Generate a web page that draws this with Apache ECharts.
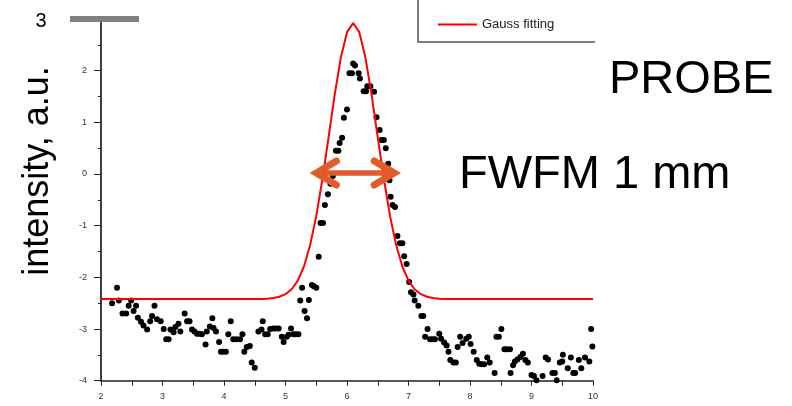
<!DOCTYPE html>
<html><head><meta charset="utf-8">
<script src="https://cdn.jsdelivr.net/npm/echarts@6/dist/echarts.min.js"></script>
<style>html,body{margin:0;padding:0;background:#fff}#c{width:792px;height:406px}</style>
</head><body><div id="c"></div>
<script>
// measured points (position, intensity)
const dotX = [
2.18,2.26,2.29,2.35,2.41,2.45,2.49,2.53,2.57,2.60,
2.65,2.69,2.75,2.80,2.83,2.87,2.91,2.97,3.02,3.06,
3.10,3.13,3.18,3.21,3.26,3.29,3.36,3.40,3.44,3.48,
3.52,3.56,3.60,3.64,3.70,3.72,3.77,3.81,3.83,3.87,
3.92,3.95,3.99,4.03,4.07,4.11,4.15,4.20,4.26,4.30,
4.33,4.37,4.42,4.45,4.50,4.56,4.61,4.63,4.67,4.71,
4.75,4.80,4.84,4.89,4.94,4.97,5.02,5.05,5.09,5.13,
5.17,5.21,5.24,5.27,5.31,5.35,5.38,5.43,5.46,5.50,
5.54,5.57,5.61,5.64,5.69,5.73,5.77,5.82,5.86,5.88,
5.92,5.95,6.00,6.04,6.08,6.10,6.13,6.19,6.21,6.27,
6.31,6.33,6.38,6.44,6.48,6.53,6.56,6.60,6.63,6.67,
6.69,6.71,6.74,6.78,6.82,6.86,6.90,6.93,6.97,7.01,
7.04,7.08,7.10,7.16,7.21,7.24,7.27,7.31,7.35,7.39,
7.43,7.50,7.53,7.58,7.62,7.65,7.68,7.73,7.77,7.80,
7.84,7.88,7.94,7.98,8.01,8.06,8.11,8.15,8.19,8.23,
8.28,8.32,8.40,8.43,8.47,8.51,8.56,8.60,8.65,8.66,
8.70,8.73,8.77,8.82,8.86,8.90,8.94,9.00,9.04,9.08,
9.18,9.23,9.27,9.34,9.38,9.41,9.46,9.50,9.51,9.59,
9.64,9.68,9.71,9.77,9.81,9.87,9.94,9.97,9.99];
const dotY = [
-2.50,-2.20,-2.45,-2.70,-2.70,-2.55,-2.45,-2.65,-2.55,-2.78,
-2.86,-2.93,-3.01,-2.85,-2.75,-2.55,-2.81,-2.85,-3.00,-3.20,
-3.20,-3.01,-3.06,-2.96,-2.90,-3.05,-2.70,-2.85,-2.85,-3.01,
-3.05,-3.09,-3.09,-3.10,-3.30,-3.05,-2.95,-2.79,-2.98,-3.05,
-3.25,-3.44,-3.44,-3.44,-3.10,-2.85,-3.20,-3.20,-3.20,-3.10,
-3.44,-3.35,-3.33,-3.65,-3.75,-3.05,-3.01,-2.85,-3.10,-3.10,
-3.00,-2.99,-2.99,-2.99,-3.15,-3.25,-3.15,-3.11,-2.99,-3.10,
-3.10,-3.10,-2.45,-2.20,-2.65,-2.79,-2.44,-2.15,-2.17,-2.20,
-1.60,-0.95,-0.95,-0.60,-0.39,-0.19,-0.04,0.45,0.45,0.60,
0.70,1.09,1.25,1.95,1.95,2.14,2.10,1.95,1.85,1.60,
1.60,1.70,1.70,1.59,1.10,0.85,0.66,0.66,0.50,0.20,
-0.12,-0.44,-0.60,-0.64,-1.20,-1.34,-1.34,-1.59,-1.74,-2.09,
-2.29,-2.33,-2.45,-2.55,-2.75,-2.75,-3.15,-3.00,-3.20,-3.20,
-3.20,-3.09,-3.19,-3.26,-3.32,-3.44,-3.60,-3.65,-3.65,-3.35,
-3.15,-3.27,-3.19,-3.15,-3.29,-3.44,-3.60,-3.67,-3.68,-3.68,
-3.55,-3.65,-3.85,-3.15,-3.15,-3.00,-3.39,-3.39,-3.39,-3.85,
-3.70,-3.63,-3.59,-3.54,-3.48,-3.60,-3.65,-3.89,-3.91,-3.99,
-3.91,-3.55,-3.59,-3.85,-3.85,-3.99,-3.65,-3.63,-3.50,-3.76,
-3.55,-3.85,-3.85,-3.60,-3.76,-3.55,-3.63,-3.00,-3.34];

// Gauss fitting curve
const fitX = [2,4.5,4.6,4.7,4.8,4.9,5.0,5.1,5.2,5.3,5.4,5.5,5.6,5.7,5.8,5.9,6.0,6.1,6.2,6.3,6.4,6.5,6.6,6.7,6.8,6.9,7.0,7.1,7.2,7.3,7.4,7.5,7.6,7.7,10];
const fitY = [-2.42,-2.42,-2.417,-2.412,-2.401,-2.376,-2.326,-2.230,-2.063,-1.790,-1.380,-0.815,-0.102,0.710,1.534,2.253,2.745,2.920,2.745,2.253,1.534,0.710,-0.102,-0.815,-1.380,-1.790,-2.063,-2.230,-2.326,-2.376,-2.401,-2.412,-2.417,-2.42,-2.42];

const xRange = [2, 10];
const yRange = [-4, 3];
const fitName = 'Gauss fitting';
const yTitle = 'intensity, a.u.';
const yTopLabel = '3';
const note1 = 'PROBE';
const note2 = 'FWFM 1 mm';
const arrowStart = [5.47, 0.02];
const arrowEnd = [6.80, 0.02];

const FONT = '"Liberation Sans", Arial, sans-serif';
const chart = echarts.init(document.getElementById('c'), null, {renderer: 'canvas'});

chart.setOption({
  animation: false,
  backgroundColor: '#fff',
  grid: {left: 101, right: 199, top: 19, bottom: 25.3, containLabel: false},
  legend: {
    data: [fitName], left: 433, top: 13, itemWidth: 39, itemHeight: 2, icon: 'rect',
    itemGap: 5, textStyle: {fontFamily: FONT, fontSize: 13, color: '#222'}
  },
  xAxis: {
    type: 'value', min: xRange[0], max: xRange[1], interval: 0.5,
    axisLine: {onZero: false, lineStyle: {color: '#222', width: 1.5}},
    axisTick: {length: 5, lineStyle: {color: '#222', width: 1}},
    axisLabel: {margin: 11, fontFamily: FONT, fontSize: 9, color: '#333',
      formatter: v => Number.isInteger(v) ? String(v) : ''},
    splitLine: {show: false}
  },
  yAxis: {
    type: 'value', min: yRange[0], max: yRange[1], interval: 1,
    axisLine: {show: true, onZero: false, lineStyle: {color: '#000', width: 1.5}},
    axisTick: {show: true, length: 7, lineStyle: {color: '#222', width: 1}},
    minorTick: {show: true, splitNumber: 2, length: 3, lineStyle: {color: '#222', width: 1}},
    axisLabel: {margin: 14, fontFamily: FONT, fontSize: 9, color: '#333',
      formatter: v => v === yRange[1] ? '' : String(v)},
    splitLine: {show: false}
  },
  series: [
    {
      type: 'scatter', name: 'data', z: 2,
      data: dotX.map((x, i) => [x, dotY[i]]),
      symbolSize: 6, itemStyle: {color: '#000', opacity: 1}, emphasis: {disabled: true}
    },
    {
      type: 'line', name: fitName, z: 3,
      data: fitX.map((x, i) => [x, fitY[i]]),
      showSymbol: false, symbol: 'none', color: '#ff0000',
      lineStyle: {color: '#ff0000', width: 2}, itemStyle: {color: '#ff0000'},
      emphasis: {disabled: true}
    }
  ]
});

const p1 = chart.convertToPixel({gridIndex: 0}, arrowStart);
const p2 = chart.convertToPixel({gridIndex: 0}, arrowEnd);
const ac = '#e05c28';
const hx = 22, hy = 12;

chart.setOption({
  graphic: [
    {type: 'rect', shape: {x: 70, y: 16, width: 69, height: 6}, style: {fill: '#808080'}, z: 10},
    {type: 'text', style: {text: yTopLabel, x: 41, y: 21, textAlign: 'center', textVerticalAlign: 'middle',
      font: '20px ' + FONT, fill: '#000'}},
    {type: 'text', x: 38, y: 171, rotation: Math.PI / 2,
      style: {text: yTitle, x: 0, y: 0, textAlign: 'center', textVerticalAlign: 'middle',
      font: '36px ' + FONT, fill: '#000'}},
    {type: 'text', style: {text: note1, x: 609, y: 80, textAlign: 'left', textVerticalAlign: 'middle',
      font: '47px ' + FONT, fill: '#000'}},
    {type: 'text', style: {text: note2, x: 459, y: 175, textAlign: 'left', textVerticalAlign: 'middle',
      font: '47px ' + FONT, fill: '#000'}},
    {type: 'polyline', shape: {points: [[418, 0], [418, 42], [595, 42]]},
      style: {stroke: '#555', lineWidth: 1.5, fill: null}},
    {type: 'line', shape: {x1: p1[0] + 4, y1: p1[1], x2: p2[0] - 4, y2: p2[1]},
      style: {stroke: ac, lineWidth: 5.5}, z: 20},
    {type: 'polyline', shape: {points: [[p1[0] + hx, p1[1] - hy], [p1[0] + 2, p1[1]], [p1[0] + hx, p1[1] + hy]]},
      style: {stroke: ac, lineWidth: 7, lineCap: 'round', lineJoin: 'miter', miterLimit: 10, fill: null}, z: 20},
    {type: 'polyline', shape: {points: [[p2[0] - hx, p2[1] - hy], [p2[0] - 2, p2[1]], [p2[0] - hx, p2[1] + hy]]},
      style: {stroke: ac, lineWidth: 7, lineCap: 'round', lineJoin: 'miter', miterLimit: 10, fill: null}, z: 20}
  ]
});
</script>
</body></html>
